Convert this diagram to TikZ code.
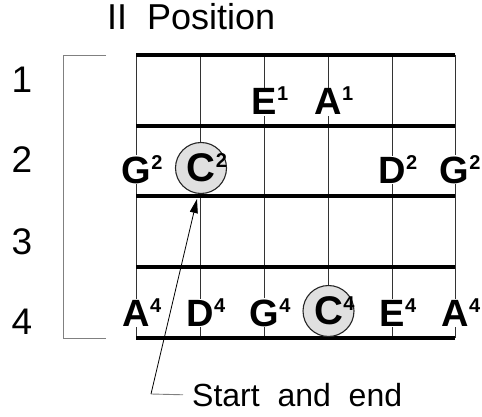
\documentclass[tikz,border=0pt]{standalone}
\usepackage{fontspec}
\setmainfont{Liberation Sans}
\usetikzlibrary{arrows.meta}
\newcommand{\nsup}[1]{\rlap{\kern0.5pt\smash{\raisebox{14pt}{\fontsize{20}{20}\selectfont #1}}}}

\begin{document}
\begin{tikzpicture}[x=1pt, y=-1pt,
  fret/.style={line width=4pt},
  string/.style={line width=0.9pt, black!80},
  note/.style={fill=white, inner sep=1pt, anchor=base, font=\fontsize{38}{38}\selectfont\bfseries},
  root/.style={circle, draw=black!85, line width=1.1pt, fill=black!12, minimum size=51pt, inner sep=0pt, font=\fontsize{40}{40}\selectfont\bfseries},
  num/.style={font=\fontsize{37}{37}\selectfont},
  caption/.style={font=\fontsize{32}{32}\selectfont, inner sep=0pt}]
\useasboundingbox (0,0) rectangle (482,417);

% title and fret numbers
\node[caption, anchor=base west, font=\fontsize{36}{36}\selectfont] (title) at (107,30) {II\ \ Position};
\node[num] (f1) at (22,80) {1};
\node[num] (f2) at (22,160) {2};
\node[num] (f3) at (22,242) {3};
\node[num] (f4) at (22,322) {4};
\draw[gray, line width=0.8pt] (106,55) -- (63,55) -- (63,338) -- (106,338);

% strings and frets
\foreach \x in {136,200,264,328,392,455}
  \draw[string] (\x,55) -- (\x,338);
\foreach \y in {55,126,196,267,338}
  \draw[fret] (136,\y) -- (455,\y);

% notes
\node[note] (e1) at (264,115) {E\nsup{1}};
\node[note] (a1) at (328,115) {A\nsup{1}};

\node[note] (g2a) at (136,183) {G\nsup{2}};
\node[root] (c2) at (201,168) {C\nsup{2}};
\node[note] (d2) at (392,183) {D\nsup{2}};
\node[note] (g2b) at (454,183) {G\nsup{2}};

\node[note] (a4a) at (136,326) {A\nsup{4}};
\node[note] (d4) at (200,326) {D\nsup{4}};
\node[note] (g4) at (264,326) {G\nsup{4}};
\node[root] (c4) at (328.5,311) {C\nsup{4}};
\node[note] (e4) at (392,326) {E\nsup{4}};
\node[note] (a4b) at (455,326) {A\nsup{4}};

% start and end
\node[caption, anchor=west] (start) at (192,395) {Start\ \ and\ \ end};
\coordinate (elbow) at (151,394);
\coordinate (tip) at (197,199);
\draw[gray, line width=0.9pt, shorten <=9pt] (start.west) -- (elbow);
\draw[line width=0.8pt, -{Triangle[length=14pt,width=8pt]}] (elbow) -- (tip);
\end{tikzpicture}
\end{document}
